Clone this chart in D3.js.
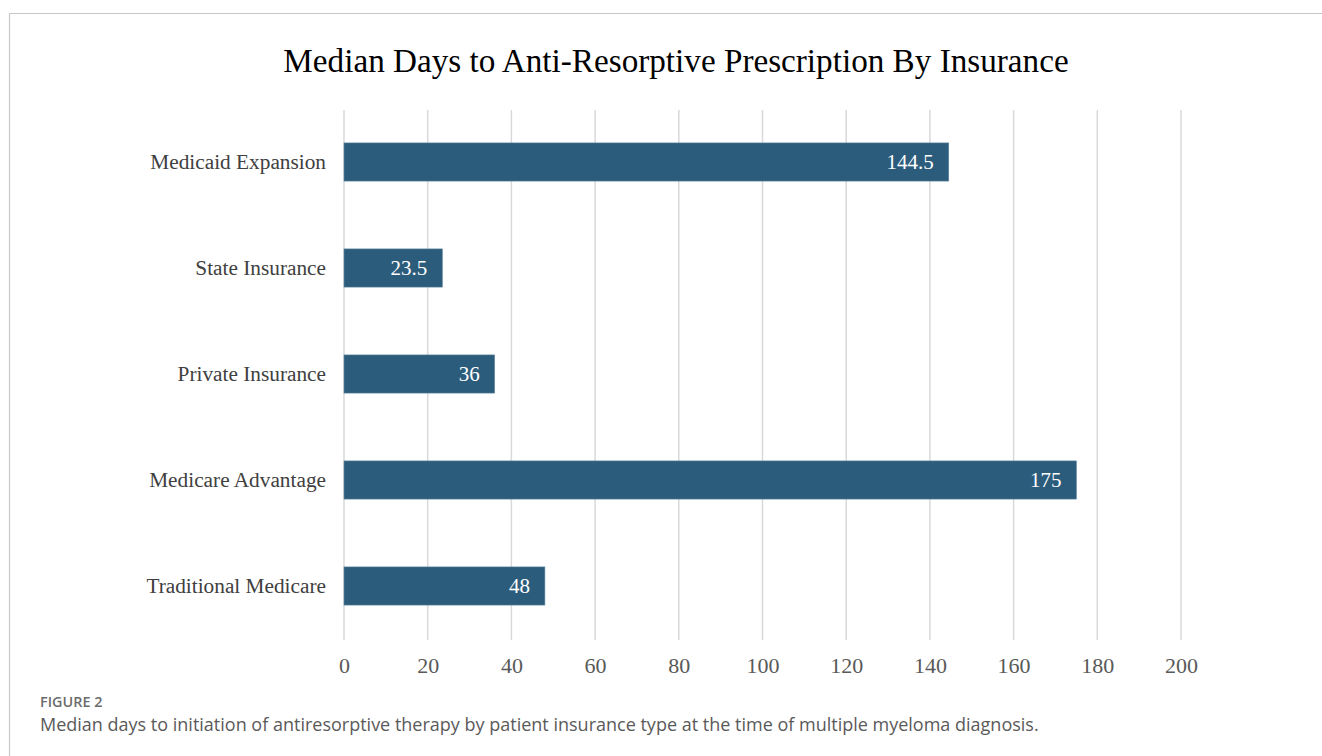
<!DOCTYPE html>
<html><head><meta charset="utf-8">
<script src="https://cdn.jsdelivr.net/npm/d3@7"></script>
<style>body{margin:0;background:#fff}</style>
</head><body>
<svg id="c" width="1322" height="756"></svg>
<script>
const categories = ["Medicaid Expansion","State Insurance","Private Insurance","Medicare Advantage","Traditional Medicare"];
const values = [144.5, 23.5, 36, 175, 48];
const valueLabels = ["144.5","23.5","36","175","48"];
const xTicks = [0,20,40,60,80,100,120,140,160,180,200];
const title = "Median Days to Anti-Resorptive Prescription By Insurance";
const figLabel = "FIGURE 2";
const caption = "Median days to initiation of antiresorptive therapy by patient insurance type at the time of multiple myeloma diagnosis.";

const svg = d3.select("#c");
svg.append("path").attr("d","M9.5,756 L9.5,13.5 L1322,13.5").attr("fill","none").attr("stroke","#c8c8c8").attr("stroke-width",1.2);

const x = d3.scaleLinear().domain([0,200]).range([344,1181]);
const y = d3.scaleBand().domain(categories).range([109,639]).paddingInner(0.64).paddingOuter(0.32);

svg.append("text").attr("x",676).attr("y",72).attr("text-anchor","middle")
  .attr("font-family","Liberation Serif, Times New Roman, serif").attr("font-size",33.2).attr("fill","#000").text(title);

svg.append("g").selectAll("line").data(xTicks).join("line")
  .attr("x1",d=>x(d)).attr("x2",d=>x(d)).attr("y1",110).attr("y2",640)
  .attr("stroke","#d9d9d9").attr("stroke-width",1.5);

const xa = svg.append("g").attr("transform","translate(0,640)")
  .call(d3.axisBottom(x).tickValues(xTicks).tickSize(0).tickPadding(17));
xa.select(".domain").remove();
xa.selectAll("text").attr("font-family","Liberation Serif, Times New Roman, serif").attr("font-size",22).attr("fill","#595959");

const ya = svg.append("g").attr("transform","translate(326,0)")
  .call(d3.axisLeft(y).tickSize(0).tickPadding(0));
ya.select(".domain").remove();
ya.selectAll("text").attr("font-family","Liberation Serif, Times New Roman, serif").attr("font-size",21.3).attr("fill","#404040");

svg.append("g").selectAll("rect").data(values).join("rect")
  .attr("x",x(0)).attr("y",(d,i)=>y(categories[i]))
  .attr("width",d=>x(d)-x(0)).attr("height",y.bandwidth())
  .attr("fill","#2c5c7c").attr("stroke","#5f86a0").attr("stroke-width",0.6);

svg.append("g").selectAll("text").data(values).join("text")
  .attr("x",d=>x(d)-15).attr("y",(d,i)=>y(categories[i])+y.bandwidth()/2)
  .attr("dy","0.35em").attr("text-anchor","end")
  .attr("font-family","Liberation Serif, Times New Roman, serif").attr("font-size",21).attr("fill","#fff")
  .text((d,i)=>valueLabels[i]);

svg.append("text").attr("x",40).attr("y",707).attr("font-family","Open Sans, sans-serif").attr("font-size",14.4)
  .attr("font-weight",600).attr("fill","#6b6b6b").text(figLabel);
svg.append("text").attr("x",40).attr("y",731).attr("font-family","Open Sans, sans-serif").attr("font-size",18)
  .attr("fill","#5a5a5a").text(caption);
</script>
</body></html>
